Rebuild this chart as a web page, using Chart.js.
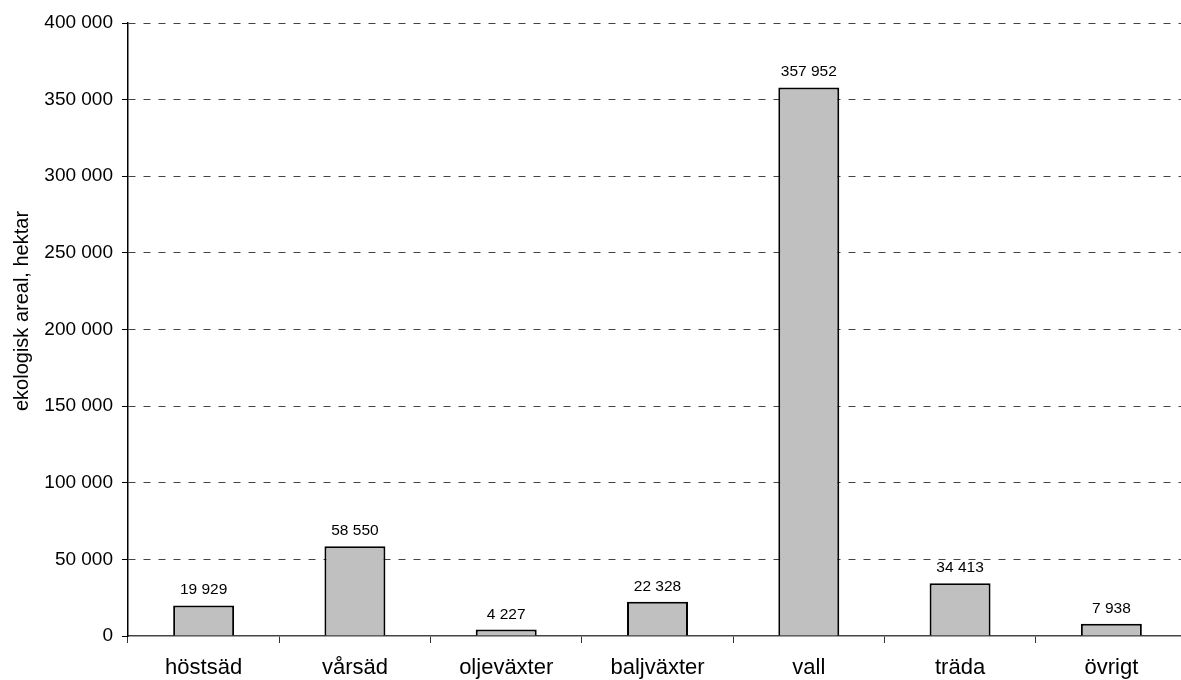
<!DOCTYPE html>
<html lang="sv">
<head>
<meta charset="utf-8">
<title>Ekologisk areal per gröda</title>
<script src="https://cdn.jsdelivr.net/npm/chart.js@4/dist/chart.umd.min.js"></script>
<style>
  html, body { margin: 0; padding: 0; background: #fff; overflow: hidden; }
  #wrap { width: 1190px; height: 680px; }
</style>
</head>
<body>
<div id="wrap"><canvas id="chart" width="1190" height="680"></canvas></div>
<script>
// Grödor och ekologisk areal (hektar)
const categories = ['höstsäd', 'vårsäd', 'oljeväxter', 'baljväxter', 'vall', 'träda', 'övrigt'];
const areal = [19929, 58550, 4227, 22328, 357952, 34413, 7938];
const yTicks = [0, 50000, 100000, 150000, 200000, 250000, 300000, 350000, 400000];
const yTitle = 'ekologisk areal, hektar';

const FONT = '"Liberation Sans", Arial, sans-serif';

// Tusentalsavgränsare med mellanslag: 357952 -> "357 952"
function fmt(v) {
  return String(Math.round(v)).replace(/\B(?=(\d{3})+(?!\d))/g, ' ');
}

// Värdeetiketter ovanför staplarna
const valueLabels = {
  id: 'valueLabels',
  afterDatasetsDraw(chart) {
    const ctx = chart.ctx;
    const meta = chart.getDatasetMeta(0);
    const data = chart.data.datasets[0].data;
    ctx.save();
    ctx.font = '15.5px ' + FONT;
    ctx.fillStyle = '#000';
    ctx.textAlign = 'center';
    ctx.textBaseline = 'alphabetic';
    meta.data.forEach((bar, i) => {
      ctx.fillText(fmt(data[i]), bar.x, bar.y - 11);
    });
    ctx.restore();
  }
};

// Axeltitel för y-axeln
const axisTitle = {
  id: 'axisTitle',
  afterDraw(chart) {
    const ctx = chart.ctx;
    ctx.save();
    ctx.translate(22, 311);
    ctx.rotate(-Math.PI / 2);
    ctx.font = '20px ' + FONT;
    ctx.fillStyle = '#000';
    ctx.textAlign = 'center';
    ctx.textBaseline = 'middle';
    ctx.fillText(yTitle, 0, 0);
    ctx.restore();
  }
};

new Chart(document.getElementById('chart'), {
  type: 'bar',
  data: {
    labels: categories,
    datasets: [{
      data: areal,
      backgroundColor: '#c0c0c0',
      borderColor: '#000',
      borderWidth: 2,
      barPercentage: 0.403,
      categoryPercentage: 1.0
    }]
  },
  options: {
    responsive: false,
    animation: false,
    devicePixelRatio: 1,
    layout: { padding: { top: 23, right: 3, left: 0, bottom: 0 } },
    plugins: {
      legend: { display: false },
      tooltip: { enabled: false },
      title: { display: false }
    },
    scales: {
      x: {
        offset: true,
        grid: {
          offset: true,
          drawOnChartArea: false,
          drawTicks: true,
          tickLength: 7,
          tickColor: '#333',
          tickWidth: 1
        },
        border: { display: true, color: '#444', width: 1.5 },
        ticks: {
          color: '#000',
          font: { family: FONT, size: 22 },
          padding: 12,
          maxRotation: 0,
          autoSkip: false
        },
        afterFit(scale) { scale.height = 44; }
      },
      y: {
        min: 0,
        max: 400000,
        afterBuildTicks(scale) { scale.ticks = yTicks.map(v => ({ value: v })); },
        grid: {
          // nollinjen täcks av x-axeln
          color: (c) => (c.tick && c.tick.value === 0) ? 'rgba(0,0,0,0)' : '#444',
          lineWidth: 1,
          drawTicks: true,
          tickLength: 6,
          tickColor: '#000',
          tickBorderDash: [],
          tickWidth: 1
        },
        border: { display: true, color: '#000', width: 1.5, dash: [7, 8] },
        ticks: {
          color: '#000',
          font: { family: FONT, size: 19 },
          padding: 9,
          callback: (v) => fmt(v)
        },
        afterFit(scale) { scale.width = 128; }
      }
    }
  },
  plugins: [valueLabels, axisTitle]
});
</script>
</body>
</html>
